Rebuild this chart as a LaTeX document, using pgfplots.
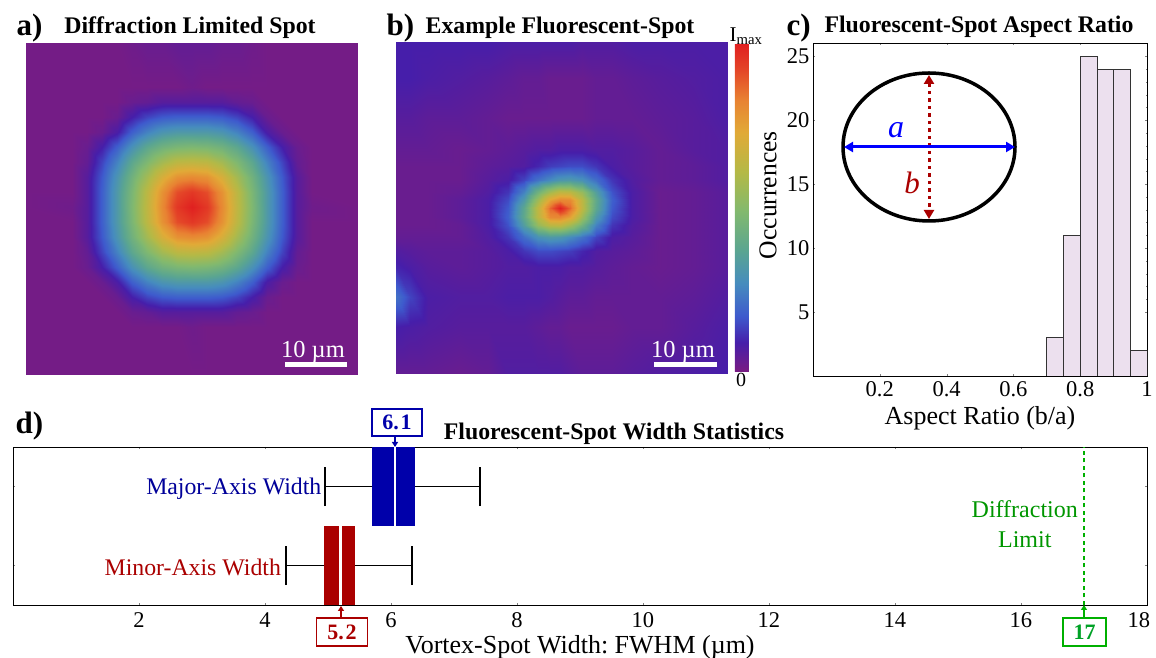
\documentclass[border=0pt]{standalone}
\usepackage{fontspec}
\setmainfont{Liberation Serif}
\usepackage{pgfplots}
\pgfplotsset{compat=1.18}
\usepgfplotslibrary{statistics}
\usetikzlibrary{arrows.meta}

\definecolor{mjblue}{RGB}{0,0,170}
\definecolor{mnred}{RGB}{170,0,0}
\definecolor{limgreen}{RGB}{0,176,0}
\definecolor{histfill}{RGB}{236,224,238}
\newcommand{\fs}[1]{\fontsize{#1}{#1}\selectfont}

\pgfplotsset{
  colormap={spot}{
    rgb255(0)=(122,28,130)
    rgb255(9)=(70,30,170)
    rgb255(17)=(62,90,205)
    rgb255(27)=(70,140,190)
    rgb255(37)=(90,165,145)
    rgb255(49)=(130,185,110)
    rgb255(61)=(180,185,70)
    rgb255(73)=(225,170,55)
    rgb255(83)=(232,130,50)
    rgb255(92)=(228,70,40)
    rgb255(100)=(224,32,32)
  },
  heat/.style={
    scale only axis, width=332pt, height=332pt, view={0}{90}, hide axis,
    colormap name=spot, point meta min=0, point meta max=100,
    title style={font=\bfseries\fs{23.8}, anchor=center, yshift=0pt},
  },
  tick/.style={ticklabel style={font=\fs{22.5}}, /pgf/number format/assume math mode=true},
}

\begin{document}
\begin{tikzpicture}[x=1pt,y=1pt]
\path[use as bounding box] (0,0) rectangle (1156,658);

% a) diffraction limited spot, pixels from the peak
\begin{axis}[heat, at={(26pt,283pt)}, anchor=south west,
    xmin=-166, xmax=166, ymin=-168, ymax=164,
    title={Diffraction Limited Spot}, title style={at={(axis description cs:0.494,1.027)}}]
\addplot3[surf, shader=interp, mesh/cols=19, mesh/ordering=x varies] table[row sep=\\,header=false] {
-166 -168 1\\-120 -168 1\\-105 -168 1\\-90 -168 1\\-75 -168 1\\-60 -168 1\\-45 -168 1\\-30 -168 1\\-15 -168 1\\0 -168 1\\15 -168 1\\30 -168 1\\45 -168 1\\60 -168 1\\75 -168 1\\90 -168 1\\105 -168 1\\120 -168 1\\166 -168 1\\
-166 -120 1\\-120 -120 1\\-105 -120 1\\-90 -120 1\\-75 -120 1\\-60 -120 1\\-45 -120 1\\-30 -120 1\\-15 -120 1\\0 -120 2\\15 -120 1\\30 -120 1\\45 -120 1\\60 -120 1\\75 -120 1\\90 -120 1\\105 -120 1\\120 -120 1\\166 -120 1\\
-166 -105 1\\-120 -105 1\\-105 -105 1\\-90 -105 1\\-75 -105 1\\-60 -105 3\\-45 -105 4\\-30 -105 6\\-15 -105 6\\0 -105 6\\15 -105 6\\30 -105 6\\45 -105 4\\60 -105 3\\75 -105 1\\90 -105 1\\105 -105 1\\120 -105 1\\166 -105 1\\
-166 -90 1\\-120 -90 1\\-105 -90 1\\-90 -90 1\\-75 -90 3\\-60 -90 9\\-45 -90 14\\-30 -90 17\\-15 -90 18\\0 -90 18\\15 -90 18\\30 -90 17\\45 -90 14\\60 -90 9\\75 -90 3\\90 -90 1\\105 -90 1\\120 -90 1\\166 -90 1\\
-166 -75 1\\-120 -75 1\\-105 -75 1\\-90 -75 3\\-75 -75 8\\-60 -75 18\\-45 -75 25\\-30 -75 30\\-15 -75 32\\0 -75 32\\15 -75 32\\30 -75 30\\45 -75 25\\60 -75 18\\75 -75 8\\90 -75 3\\105 -75 1\\120 -75 1\\166 -75 1\\
-166 -60 1\\-120 -60 1\\-105 -60 3\\-90 -60 9\\-75 -60 18\\-60 -60 29\\-45 -60 38\\-30 -60 44\\-15 -60 47\\0 -60 48\\15 -60 47\\30 -60 44\\45 -60 38\\60 -60 29\\75 -60 18\\90 -60 9\\105 -60 3\\120 -60 1\\166 -60 1\\
-166 -45 1\\-120 -45 1\\-105 -45 4\\-90 -45 14\\-75 -45 25\\-60 -45 38\\-45 -45 48\\-30 -45 57\\-15 -45 63\\0 -45 64\\15 -45 63\\30 -45 57\\45 -45 48\\60 -45 38\\75 -45 25\\90 -45 14\\105 -45 4\\120 -45 1\\166 -45 1\\
-166 -30 1\\-120 -30 1\\-105 -30 6\\-90 -30 17\\-75 -30 30\\-60 -30 44\\-45 -30 57\\-30 -30 70\\-15 -30 79\\0 -30 81\\15 -30 79\\30 -30 70\\45 -30 57\\60 -30 44\\75 -30 30\\90 -30 17\\105 -30 6\\120 -30 1\\166 -30 1\\
-166 -15 1\\-120 -15 1\\-105 -15 6\\-90 -15 18\\-75 -15 32\\-60 -15 47\\-45 -15 63\\-30 -15 79\\-15 -15 91\\0 -15 95\\15 -15 91\\30 -15 79\\45 -15 63\\60 -15 47\\75 -15 32\\90 -15 18\\105 -15 6\\120 -15 1\\166 -15 1\\
-166 0 1\\-120 0 2\\-105 0 6\\-90 0 18\\-75 0 32\\-60 0 48\\-45 0 64\\-30 0 81\\-15 0 95\\0 0 100\\15 0 95\\30 0 81\\45 0 64\\60 0 48\\75 0 32\\90 0 18\\105 0 6\\120 0 2\\166 0 1\\
-166 15 1\\-120 15 1\\-105 15 6\\-90 15 18\\-75 15 32\\-60 15 47\\-45 15 63\\-30 15 79\\-15 15 91\\0 15 95\\15 15 91\\30 15 79\\45 15 63\\60 15 47\\75 15 32\\90 15 18\\105 15 6\\120 15 1\\166 15 1\\
-166 30 1\\-120 30 1\\-105 30 6\\-90 30 17\\-75 30 30\\-60 30 44\\-45 30 57\\-30 30 70\\-15 30 79\\0 30 81\\15 30 79\\30 30 70\\45 30 57\\60 30 44\\75 30 30\\90 30 17\\105 30 6\\120 30 1\\166 30 1\\
-166 45 1\\-120 45 1\\-105 45 4\\-90 45 14\\-75 45 25\\-60 45 38\\-45 45 48\\-30 45 57\\-15 45 63\\0 45 64\\15 45 63\\30 45 57\\45 45 48\\60 45 38\\75 45 25\\90 45 14\\105 45 4\\120 45 1\\166 45 1\\
-166 60 1\\-120 60 1\\-105 60 3\\-90 60 9\\-75 60 18\\-60 60 29\\-45 60 38\\-30 60 44\\-15 60 47\\0 60 48\\15 60 47\\30 60 44\\45 60 38\\60 60 29\\75 60 18\\90 60 9\\105 60 3\\120 60 1\\166 60 1\\
-166 75 1\\-120 75 1\\-105 75 1\\-90 75 3\\-75 75 8\\-60 75 18\\-45 75 25\\-30 75 30\\-15 75 32\\0 75 32\\15 75 32\\30 75 30\\45 75 25\\60 75 18\\75 75 8\\90 75 3\\105 75 1\\120 75 1\\166 75 1\\
-166 90 1\\-120 90 1\\-105 90 1\\-90 90 1\\-75 90 3\\-60 90 9\\-45 90 14\\-30 90 17\\-15 90 18\\0 90 18\\15 90 18\\30 90 17\\45 90 14\\60 90 9\\75 90 3\\90 90 1\\105 90 1\\120 90 1\\166 90 1\\
-166 105 1\\-120 105 1\\-105 105 1\\-90 105 1\\-75 105 1\\-60 105 3\\-45 105 4\\-30 105 6\\-15 105 6\\0 105 6\\15 105 6\\30 105 6\\45 105 4\\60 105 3\\75 105 1\\90 105 1\\105 105 1\\120 105 1\\166 105 1\\
-166 120 1\\-120 120 1\\-105 120 1\\-90 120 1\\-75 120 1\\-60 120 1\\-45 120 1\\-30 120 1\\-15 120 1\\0 120 2\\15 120 1\\30 120 1\\45 120 1\\60 120 1\\75 120 1\\90 120 1\\105 120 1\\120 120 1\\166 120 1\\
-166 164 1\\-120 164 1\\-105 164 1\\-90 164 1\\-75 164 1\\-60 164 2\\-45 164 3\\-30 164 3\\-15 164 4\\0 164 4\\15 164 4\\30 164 3\\45 164 3\\60 164 2\\75 164 1\\90 164 1\\105 164 1\\120 164 1\\166 164 1\\
};
\end{axis}

% b) example fluorescent spot
\begin{axis}[heat, at={(396pt,284pt)}, anchor=south west,
    xmin=-164, xmax=168, ymin=-165, ymax=166,
    title={Example Fluorescent-Spot}, title style={at={(axis description cs:0.494,1.024)}},
    colorbar, colorbar style={at={(1.021,0.994)}, anchor=north west, width=14pt, height=328pt,
      ytick=\empty, axis line style={draw=none}, scale only axis}]
\addplot3[surf, shader=interp, mesh/cols=18, mesh/ordering=x varies] table[row sep=\\,header=false] {
-164 -165 4\\-150 -165 4\\-132 -165 4\\-100 -165 3\\-72 -165 4\\-52 -165 7\\-36 -165 7\\-22 -165 7\\-10 -165 7\\0 -165 7\\10 -165 6\\22 -165 5\\36 -165 5\\52 -165 5\\72 -165 6\\100 -165 7\\134 -165 8\\168 -165 9\\
-164 -118 9\\-150 -118 8\\-132 -118 7\\-100 -118 6\\-72 -118 6\\-52 -118 6\\-36 -118 6\\-22 -118 5\\-10 -118 4\\0 -118 4\\10 -118 3\\22 -118 3\\36 -118 3\\52 -118 3\\72 -118 4\\100 -118 4\\134 -118 6\\168 -118 8\\
-164 -88 22\\-150 -88 14\\-132 -88 8\\-100 -88 7\\-72 -88 7\\-52 -88 8\\-36 -88 8\\-22 -88 8\\-10 -88 7\\0 -88 6\\10 -88 5\\22 -88 5\\36 -88 4\\52 -88 4\\72 -88 4\\100 -88 4\\134 -88 5\\168 -88 7\\
-164 -58 10\\-150 -58 8\\-132 -58 6\\-100 -58 5\\-72 -58 6\\-52 -58 7\\-36 -58 7\\-22 -58 8\\-10 -58 8\\0 -58 8\\10 -58 7\\22 -58 7\\36 -58 6\\52 -58 5\\72 -58 4\\100 -58 3\\134 -58 4\\168 -58 6\\
-164 -42 7\\-150 -42 6\\-132 -42 5\\-100 -42 5\\-72 -42 6\\-52 -42 8\\-36 -42 12\\-22 -42 15\\-10 -42 15\\0 -42 14\\10 -42 13\\22 -42 10\\36 -42 7\\52 -42 6\\72 -42 5\\100 -42 3\\134 -42 4\\168 -42 6\\
-164 -28 4\\-150 -28 4\\-132 -28 4\\-100 -28 4\\-72 -28 7\\-52 -28 12\\-36 -28 21\\-22 -28 29\\-10 -28 32\\0 -28 31\\10 -28 27\\22 -28 22\\36 -28 14\\52 -28 8\\72 -28 6\\100 -28 3\\134 -28 4\\168 -28 6\\
-164 -16 3\\-150 -16 3\\-132 -16 3\\-100 -16 4\\-72 -16 8\\-52 -16 16\\-36 -16 34\\-22 -16 54\\-10 -16 63\\0 -16 64\\10 -16 57\\22 -16 44\\36 -16 25\\52 -16 12\\72 -16 7\\100 -16 3\\134 -16 4\\168 -16 6\\
-164 -8 3\\-150 -8 3\\-132 -8 3\\-100 -8 5\\-72 -8 8\\-52 -8 18\\-36 -8 39\\-22 -8 63\\-10 -8 81\\0 -8 82\\10 -8 75\\22 -8 56\\36 -8 32\\52 -8 15\\72 -8 8\\100 -8 3\\134 -8 4\\168 -8 6\\
-164 0 3\\-150 0 3\\-132 0 3\\-100 0 5\\-72 0 8\\-52 0 17\\-36 0 38\\-22 0 64\\-10 0 87\\0 0 100\\10 0 87\\22 0 64\\36 0 38\\52 0 17\\72 0 8\\100 0 3\\134 0 4\\168 0 6\\
-164 8 3\\-150 8 3\\-132 8 3\\-100 8 5\\-72 8 8\\-52 8 15\\-36 8 32\\-22 8 56\\-10 8 75\\0 8 82\\10 8 81\\22 8 63\\36 8 39\\52 8 18\\72 8 8\\100 8 3\\134 8 4\\168 8 6\\
-164 16 3\\-150 16 3\\-132 16 3\\-100 16 4\\-72 16 7\\-52 16 12\\-36 16 25\\-22 16 44\\-10 16 57\\0 16 64\\10 16 63\\22 16 54\\36 16 34\\52 16 16\\72 16 8\\100 16 3\\134 16 4\\168 16 6\\
-164 28 3\\-150 28 3\\-132 28 3\\-100 28 3\\-72 28 6\\-52 28 8\\-36 28 14\\-22 28 22\\-10 28 27\\0 28 31\\10 28 32\\22 28 29\\36 28 21\\52 28 12\\72 28 7\\100 28 4\\134 28 5\\168 28 7\\
-164 42 3\\-150 42 3\\-132 42 3\\-100 42 3\\-72 42 5\\-52 42 6\\-36 42 7\\-22 42 10\\-10 42 13\\0 42 14\\10 42 15\\22 42 15\\36 42 12\\52 42 8\\72 42 6\\100 42 4\\134 42 5\\168 42 7\\
-164 58 4\\-150 58 4\\-132 58 4\\-100 58 3\\-72 58 4\\-52 58 5\\-36 58 6\\-22 58 7\\-10 58 7\\0 58 8\\10 58 8\\22 58 8\\36 58 7\\52 58 7\\72 58 6\\100 58 4\\134 58 6\\168 58 7\\
-164 90 6\\-150 90 6\\-132 90 5\\-100 90 5\\-72 90 4\\-52 90 3\\-36 90 3\\-22 90 3\\-10 90 3\\0 90 3\\10 90 3\\22 90 3\\36 90 4\\52 90 4\\72 90 4\\100 90 5\\134 90 6\\168 90 8\\
-164 130 9\\-150 130 9\\-132 130 8\\-100 130 7\\-72 130 6\\-52 130 5\\-36 130 4\\-22 130 4\\-10 130 3\\0 130 3\\10 130 3\\22 130 3\\36 130 4\\52 130 4\\72 130 5\\100 130 6\\134 130 7\\168 130 8\\
-164 166 9\\-150 166 9\\-132 166 9\\-100 166 9\\-72 166 9\\-52 166 8\\-36 166 8\\-22 166 8\\-10 166 8\\0 166 8\\10 166 8\\22 166 7\\36 166 7\\52 166 7\\72 166 8\\100 166 8\\134 166 8\\168 166 8\\
};
\end{axis}

% c) aspect ratio histogram
\begin{axis}[tick, at={(813pt,282pt)}, anchor=south west, scale only axis, width=334pt, height=333pt,
    xmin=0, xmax=1, ymin=0, ymax=26.05,
    xtick={0.2,0.4,0.6,0.8,1}, xticklabels={0.2,0.4,0.6,0.8,1},
    x tick label style={yshift=-2pt},
    ytick={5,10,15,20,25}, minor y tick num=4, tick align=inside,
    major tick length=2pt, minor tick length=1pt, axis line style={line width=0.9pt},
    xlabel={Aspect Ratio (b/a)}, ylabel={Occurrences},
    x label style={font=\fs{26}, at={(axis description cs:0.5,0)}, anchor=center, yshift=-42pt},
    y label style={font=\fs{25.6}, at={(axis description cs:0,0.543)}, anchor=center, yshift=45pt},
    title={Fluorescent-Spot Aspect Ratio},
    title style={font=\bfseries\fs{23.8}, at={(axis description cs:0.497,1.032)}, anchor=center, yshift=0pt}]
\addplot[ybar interval, fill=histfill, draw=black!80, line width=0.8pt] coordinates {
  (0.70,3) (0.75,11) (0.80,25) (0.85,24) (0.90,24) (0.95,2) (1.00,2)
};
\end{axis}

% d) width statistics
\begin{axis}[tick, at={(13pt,53pt)}, anchor=south west, scale only axis, width=1134pt, height=158pt,
    xmin=0, xmax=18, ymin=0.5, ymax=2.5,
    boxplot/draw direction=x,
    xtick={2,4,...,18}, xticklabels={2,4,6,8,10,12,14,16,\makebox[0pt][c]{\kern-16pt 18}},
    x tick label style={yshift=-4pt},
    ytick={1,2}, yticklabels={}, tick align=inside, major tick length=2pt,
    axis line style={line width=0.9pt},
    xlabel={Vortex-Spot Width: FWHM (µm)},
    x label style={font=\fs{26}\frenchspacing, at={(axis description cs:0.5,0)}, anchor=center, yshift=-42pt},
    title={Fluorescent-Spot Width Statistics},
    title style={font=\bfseries\fs{23.8}, at={(axis description cs:0.53,1.044)}, anchor=center, yshift=0pt}]
\addplot[black, line width=1.8pt,
    boxplot/every box/.style={draw=none, fill=mjblue},
    boxplot/every median/.style={draw=white, line width=2.5pt},
    boxplot prepared={draw position=2, lower whisker=4.95, lower quartile=5.70, median=6.06,
      upper quartile=6.38, upper whisker=7.41, box extend=1, whisker extend=0.5}] coordinates {};
\addplot[black, line width=1.8pt,
    boxplot/every box/.style={draw=none, fill=mnred},
    boxplot/every median/.style={draw=white, line width=2.5pt},
    boxplot prepared={draw position=1, lower whisker=4.33, lower quartile=4.94, median=5.20,
      upper quartile=5.43, upper whisker=6.33, box extend=1, whisker extend=0.5}] coordinates {};
\addplot[limgreen, line width=2pt, dash pattern=on 4pt off 3.5pt] coordinates {(17,0.5) (17,2.5)};
\node[font=\fs{23.8}, text=mjblue!90!black, anchor=east] at (axis cs:4.95,1.97) {Major-Axis Width};
\node[font=\fs{23.8}, text=mnred, anchor=east] at (axis cs:4.31,0.98) {Minor-Axis Width};
\node[font=\fs{24}, text=limgreen!85!black, align=center, anchor=center] at (axis cs:16.06,1.52) {Diffraction\\[6pt]Limit};
\end{axis}

% panel letters
\node[font=\bfseries\fs{31}, anchor=base west] at (13,622) {a)};
\node[font=\bfseries\fs{31}, anchor=base west] at (383,622) {b)};
\node[font=\bfseries\fs{31}, anchor=base west] at (783,622) {c)};
\node[font=\bfseries\fs{31}, anchor=base west] at (12,224) {d)};

% scale bars
\draw[white, line width=5pt] (285,293) -- (347,293);
\node[white, font=\fs{24.4}, anchor=base] at (313,300) {10 µm};
\draw[white, line width=5pt] (654,293) -- (717,293);
\node[white, font=\fs{24.4}, anchor=base] at (683,300) {10 µm};

% colorbar ends
\node[font=\fs{21}] at (746,622) {I\textsubscript{max}};
\node[font=\fs{20}] at (741,278) {0};

% ellipse inset
\draw[line width=3.5pt] (929,511) ellipse [x radius=86, y radius=74];
\draw[mnred, line width=3pt, dash pattern=on 3.5pt off 4pt,
  {Triangle[length=9pt,width=10pt]}-{Triangle[length=9pt,width=10pt]}] (929,583) -- (929,439);
\draw[blue, line width=3pt, {Triangle[length=9pt,width=10pt]}-{Triangle[length=9pt,width=10pt]}] (844,511) -- (1015,511);
\node[blue, font=\itshape\fs{32}] at (896,528) {a};
\node[mnred, font=\itshape\fs{31}] at (912,475) {b};

% value boxes
\node[draw=mjblue, line width=1.8pt, text=mjblue, font=\bfseries\fs{22}, minimum width=50pt, minimum height=27pt, inner sep=0pt] at (397,235.5) {6.\kern2pt 1};
\draw[mjblue, line width=1.5pt, -{Triangle[length=5pt,width=6pt]}] (395,222) -- (395,211);
\node[draw=mnred, line width=1.8pt, text=mnred, font=\bfseries\fs{22}, minimum width=51pt, minimum height=28pt, inner sep=0pt] at (342,26) {5.\kern2pt 2};
\draw[mnred, line width=1.5pt, -{Triangle[length=5pt,width=6pt]}] (341,40) -- (341,52);
\node[draw=limgreen, line width=1.8pt, text=limgreen!70!teal, font=\bfseries\fs{22}, minimum width=43pt, minimum height=28pt, inner sep=0pt] at (1084.5,26) {17};
\draw[limgreen, line width=1.5pt, -{Triangle[length=5pt,width=6pt]}] (1084,40) -- (1084,53);
\end{tikzpicture}
\end{document}
